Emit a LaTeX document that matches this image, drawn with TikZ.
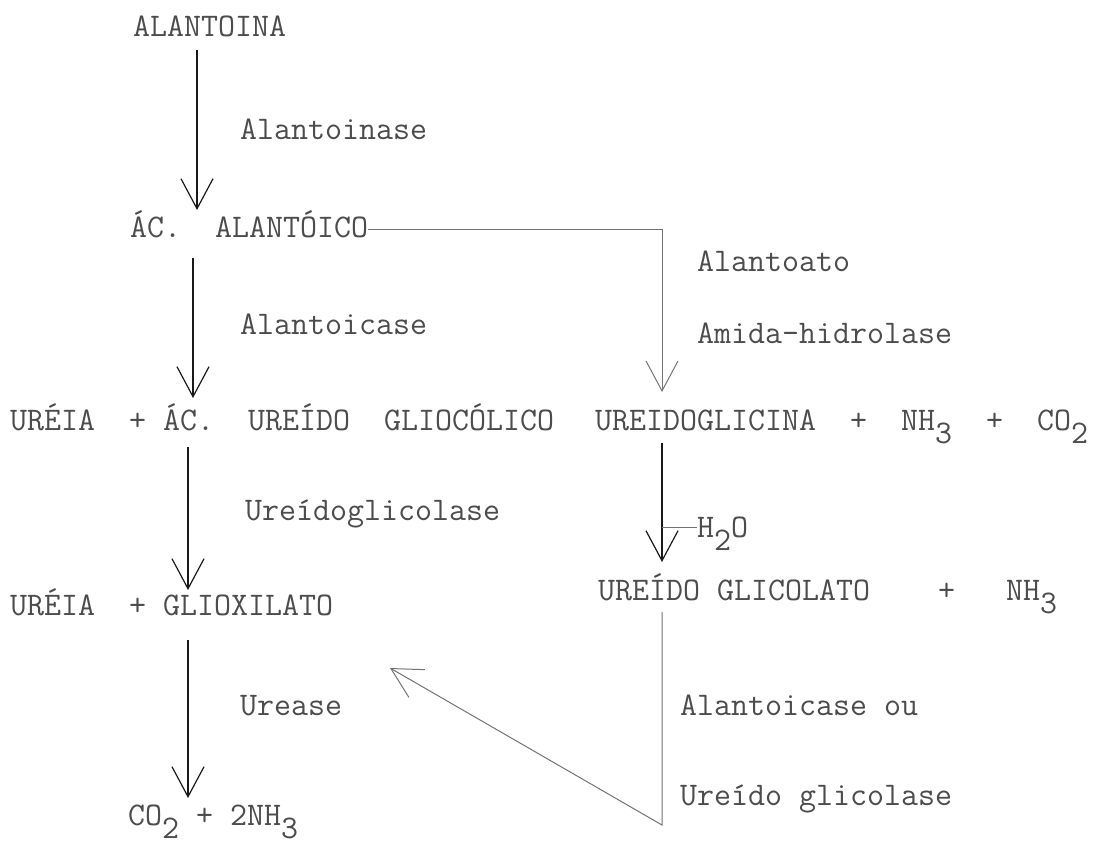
\documentclass[tikz,border=0pt]{standalone}
\usepackage{fontspec}
\usetikzlibrary{arrows.meta}
\newcommand{\sbs}[1]{\raisebox{-0.42em}{#1}}
\begin{document}
\begin{tikzpicture}[x=1pt,y=-1pt,
  txt/.style={anchor=base west, inner sep=0pt, text=black!70,
    font=\ttfamily\fontsize{33}{33}\selectfont},
  arr/.style={draw=black!90, line width=1.3pt,
    -{Straight Barb[length=30pt,width=32pt,line width=1.2pt]}},
  link/.style={draw=black!55, line width=1pt},
  linkarr/.style={link, -{Straight Barb[length=30pt,width=32pt,line width=1pt]}}]
\useasboundingbox (0,0) rectangle (1110,850);

% compounds
\node[txt] (alantoina) at (133,37) {ALANTOINA};
\node[txt] (acalant) at (130,237) {ÁC.~~ALANTÓICO};
\node[txt] (ureia1) at (10,430) {URÉIA~~+~ÁC.~~UREÍDO~~GLIOCÓLICO};
\node[txt] (ureidogl) at (595,430) {UREIDOGLICINA~~+~~NH\sbs{3}~~+~~CO\sbs{2}};
\node[txt] (ureia2) at (10,615) {URÉIA~~+~GLIOXILATO};
\node[txt] (ureidoglicolato) at (598,600) {UREÍDO~GLICOLATO~~~~+~~~NH\sbs{3}};
\node[txt] (co2) at (128,825) {CO\sbs{2}~+~2NH\sbs{3}};

% enzymes
\node[txt] (e1) at (240,140) {Alantoinase};
\node[txt] (e2) at (240,334) {Alantoicase};
\node[txt] (e3) at (697,272) {Alantoato};
\node[txt] (e3b) at (697,343) {Amida-hidrolase};
\node[txt] (e4) at (245,520) {Ureídoglicolase};
\node[txt] (h2o) at (697,537) {H\sbs{2}O};
\node[txt] (e5) at (240,715) {Urease};
\node[txt] (e6) at (680,715) {Alantoicase ou};
\node[txt] (e6b) at (680,805) {Ureído glicolase};

% arrow end points
\coordinate (a1s) at (197,50);   \coordinate (a1e) at (197,210);
\coordinate (a2s) at (193,258);  \coordinate (a2e) at (193,398);
\coordinate (a3s) at (188,447);  \coordinate (a3e) at (188,590);
\coordinate (a4s) at (188,640);  \coordinate (a4e) at (188,798);
\coordinate (hs) at (acalant.east |- 0,230); \coordinate (hc) at (662,230);
\coordinate (he) at (662,392);
\coordinate (a5s) at (662,443);  \coordinate (a5e) at (662,562);
\coordinate (tk) at (662,527);   \coordinate (tke) at (h2o.west |- 0,527);
\coordinate (ds) at (662,612);   \coordinate (dc) at (662,825);
\coordinate (de) at (390,668);

\draw[arr] (a1s) -- (a1e);
\draw[arr] (a2s) -- (a2e);
\draw[arr] (a3s) -- (a3e);
\draw[arr] (a4s) -- (a4e);
\draw[linkarr] (hs) -- (hc) -- (he);
\draw[arr] (a5s) -- (a5e);
\draw[link] (tk) -- (tke);
\draw[linkarr] (ds) -- (dc) -- (de);
\end{tikzpicture}
\end{document}
